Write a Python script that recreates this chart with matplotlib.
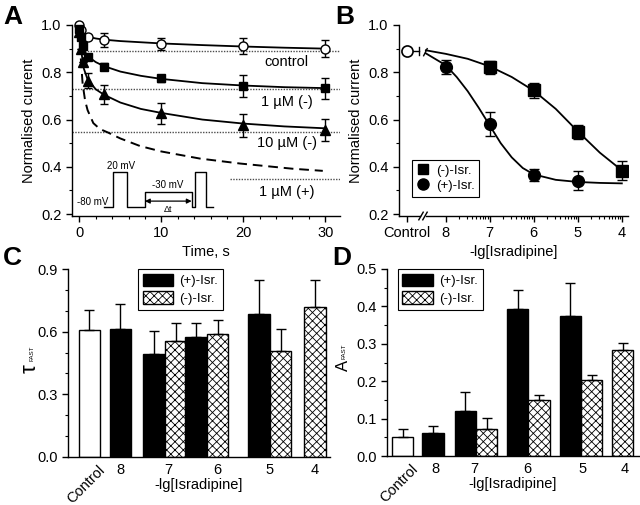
import matplotlib
matplotlib.use("Agg")
import matplotlib.pyplot as plt
import numpy as np
from matplotlib.patches import Patch
from matplotlib.lines import Line2D
from matplotlib.ticker import MultipleLocator, FixedLocator, NullFormatter

plt.rcParams["font.family"] = ["Liberation Sans", "DejaVu Sans"]
plt.rcParams["font.size"] = 10.5
plt.rcParams["axes.linewidth"] = 1.0
plt.rcParams["hatch.linewidth"] = 0.6

# ---- panel A: current decay over time ----
t_control = [0, 0.25, 1, 3, 10, 20, 30]
i_control = [1.0, 0.98, 0.951, 0.937, 0.921, 0.911, 0.90]
e_control = [0, 0, 0, 0.03, 0.025, 0.035, 0.035]

t_minus1 = [0, 0.25, 0.5, 1, 3, 10, 20, 30]
i_minus1 = [0.985, 0.95, 0.91, 0.866, 0.824, 0.775, 0.742, 0.732]
e_minus1 = [0, 0, 0, 0, 0.015, 0.015, 0.045, 0.045]

t_minus10 = [0, 0.2, 0.5, 1, 3, 10, 20, 30]
i_minus10 = [0.97, 0.9, 0.845, 0.765, 0.707, 0.627, 0.575, 0.556]
e_minus10 = [0, 0, 0, 0.03, 0.04, 0.045, 0.05, 0.045]

# fitted curves
fit_t_control = [0, 0.3, 0.6, 1, 2, 3, 5, 10, 15, 20, 25, 30]
fit_control = [1.0, 0.975, 0.96, 0.951, 0.943, 0.938, 0.932, 0.922, 0.915, 0.909, 0.904, 0.90]
fit_t_minus1 = [0, 0.3, 0.6, 1, 2, 3, 5, 7.5, 10, 15, 20, 25, 30]
fit_minus1 = [0.99, 0.93, 0.89, 0.868, 0.843, 0.826, 0.803, 0.785, 0.772, 0.754, 0.744, 0.737, 0.733]
fit_t_minus10 = [0, 0.2, 0.5, 1, 2, 3, 5, 7.5, 10, 15, 20, 25, 30]
fit_minus10 = [0.99, 0.9, 0.82, 0.77, 0.728, 0.705, 0.672, 0.645, 0.628, 0.6, 0.583, 0.571, 0.563]
fit_t_plus1 = [0, 0.15, 0.4, 0.7, 1, 1.7, 2.5, 3.5, 5, 7.4, 10, 14.7, 19.6, 22.8, 26, 29.7]
fit_plus1 = [0.99, 0.87, 0.75, 0.68, 0.64, 0.585, 0.56, 0.545, 0.52, 0.488, 0.465, 0.435, 0.414, 0.403, 0.392, 0.383]

steady_levels = [0.89, 0.728, 0.549, 0.349]
steady_labels = ["control", "1 µM (-)", "10 µM (-)", "1 µM (+)"]
label_y = [0.845, 0.675, 0.499, 0.294]

# voltage protocol inset (time-axis units)
proto_x = [3.0, 4.13, 4.13, 5.75, 5.75, 7.99, 7.99, 13.76, 13.76, 14.09, 14.09, 15.4, 15.4, 16.3]
proto_y = [0.231, 0.231, 0.379, 0.379, 0.231, 0.231, 0.292, 0.292, 0.231, 0.231, 0.379, 0.379, 0.231, 0.231]

# ---- panel B: dose response ----
lg_conc = [8, 7, 6, 5, 4]
resp_minus = [None, 0.821, 0.723, 0.549, 0.383]
err_minus = [None, 0.027, 0.03, 0.03, 0.04]
resp_plus = [0.821, 0.582, 0.366, 0.341, None]
err_plus = [0.03, 0.05, 0.025, 0.04, None]
control_resp = 0.89

fit_x_minus = [8.45, 8, 7.5, 7, 6.5, 6, 5.5, 5, 4.5, 4]
fit_y_minus = [0.893, 0.878, 0.857, 0.825, 0.78, 0.722, 0.645, 0.55, 0.46, 0.385]
fit_x_plus = [8.45, 8, 7.75, 7.5, 7.25, 7, 6.75, 6.5, 6.25, 6, 5.5, 5, 4.5, 4]
fit_y_plus = [0.88, 0.83, 0.78, 0.72, 0.65, 0.575, 0.5, 0.44, 0.395, 0.368, 0.345, 0.336, 0.332, 0.33]

# ---- panels C and D: bars ----
categories = ["Control", "8", "7", "6", "5", "4"]
tau_control, tau_control_err = 0.606, 0.097
tau_plus = [0.612, 0.494, 0.575, 0.684, None]
tau_plus_err = [0.12, 0.109, 0.068, 0.162, None]
tau_minus = [None, 0.555, 0.587, 0.507, 0.716]
tau_minus_err = [None, 0.088, 0.067, 0.107, 0.13]

amp_control, amp_control_err = 0.051, 0.02
amp_plus = [0.061, 0.121, 0.392, 0.373, None]
amp_plus_err = [0.02, 0.051, 0.051, 0.089, None]
amp_minus = [None, 0.071, 0.151, 0.204, 0.283]
amp_minus_err = [None, 0.031, 0.012, 0.013, 0.019]

fig = plt.figure(figsize=(6.4, 5.05), dpi=100)

# ================= A =================
axA = fig.add_axes([72 / 640, 1 - 216 / 505, 268 / 640, 191 / 505])
axA.set_xlim(-0.9, 31.8)
axA.set_ylim(0.192, 1.0)
for s in ("top", "right"):
    axA.spines[s].set_visible(False)

axA.hlines(steady_levels[0], 0, 31.8, colors="0.3", linestyles=(0, (1, 1)), lw=1.0)
for lvl in steady_levels[1:3]:
    axA.hlines(lvl, -0.9, 31.8, colors="0.3", linestyles=(0, (1, 1)), lw=1.0)
axA.hlines(steady_levels[3], 18.4, 31.8, colors="0.3", linestyles=(0, (1, 1)), lw=1.0)

axA.plot(fit_t_control, fit_control, color="black", lw=1.3)
axA.plot(fit_t_minus1, fit_minus1, color="black", lw=1.3)
axA.plot(fit_t_minus10, fit_minus10, color="black", lw=1.3)
axA.plot(fit_t_plus1, fit_plus1, color="black", lw=1.4, ls=(0, (5, 3)))

axA.errorbar(t_control, i_control, yerr=e_control, fmt="o", mfc="white", mec="black",
             ms=6.5, color="black", capsize=3, elinewidth=1, clip_on=False, zorder=5)
axA.errorbar(t_minus1, i_minus1, yerr=e_minus1, fmt="s", mfc="black", mec="black",
             ms=6, color="black", capsize=3, elinewidth=1, clip_on=False, zorder=5)
axA.errorbar(t_minus10, i_minus10, yerr=e_minus10, fmt="^", mfc="black", mec="black",
             ms=6.5, color="black", capsize=3, elinewidth=1, clip_on=False, zorder=5)

for txt, y in zip(steady_labels, label_y):
    axA.text(25.3, y, txt, ha="center", va="center", fontsize=10.5)

axA.plot(proto_x, proto_y, color="black", lw=1.0)
axA.annotate("", xy=(8.0, 0.255), xytext=(13.7, 0.255),
             arrowprops=dict(arrowstyle="<|-|>", color="black", lw=0.9,
                             mutation_scale=7, shrinkA=0, shrinkB=0))
axA.text(5.1, 0.404, "20 mV", fontsize=7, ha="center", va="center")
axA.text(1.6, 0.252, "-80 mV", fontsize=7, ha="center", va="center")
axA.text(10.8, 0.323, "-30 mV", fontsize=7, ha="center", va="center")
axA.text(10.8, 0.219, "Δt", fontsize=6.5, ha="center", va="center")

axA.xaxis.set_major_locator(FixedLocator([0, 10, 20, 30]))
axA.xaxis.set_minor_locator(MultipleLocator(2))
axA.yaxis.set_major_locator(MultipleLocator(0.2))
axA.yaxis.set_minor_locator(MultipleLocator(0.1))
axA.tick_params(which="major", direction="out", length=4, width=1)
axA.tick_params(which="minor", direction="out", length=2.5, width=0.8)
axA.set_ylabel("Normalised current", labelpad=4)
axA.set_xlabel("Time, s", labelpad=3)

# ================= B =================
axB = fig.add_axes([399 / 640, 1 - 216 / 505, 229 / 640, 191 / 505])
axB.set_xlim(9.06, 3.86)
axB.set_ylim(0.192, 1.0)
for s in ("top", "right", "bottom"):
    axB.spines[s].set_visible(False)

# broken x axis
trB = axB.get_xaxis_transform()
axB.plot([9.06, 8.58], [0, 0], color="black", lw=1.0, transform=trB, clip_on=False)
axB.plot([8.45, 3.86], [0, 0], color="black", lw=1.0, transform=trB, clip_on=False)
for bx in (8.56, 8.47):
    axB.plot([bx + 0.05, bx - 0.05], [-0.02, 0.02], color="black", lw=1.0,
             transform=trB, clip_on=False)

axB.plot(fit_x_minus, fit_y_minus, color="black", lw=1.3)
axB.plot(fit_x_plus, fit_y_plus, color="black", lw=1.3)
axB.plot([8.87, 8.6], [control_resp, control_resp], color="black", lw=1.0)
axB.plot([8.6, 8.6], [control_resp - 0.015, control_resp + 0.015], color="black", lw=1.0)
axB.plot([8.5, 8.42], [control_resp - 0.02, control_resp + 0.01], color="black", lw=1.0)
axB.plot([8.87], [control_resp], "o", mfc="white", mec="black", ms=8, mew=1.2, zorder=5)

xm = [x for x, v in zip(lg_conc, resp_minus) if v is not None]
ym = [v for v in resp_minus if v is not None]
em = [v for v in err_minus if v is not None]
xp = [x for x, v in zip(lg_conc, resp_plus) if v is not None]
yp = [v for v in resp_plus if v is not None]
ep = [v for v in err_plus if v is not None]
axB.errorbar(xm, ym, yerr=em, fmt="s", color="black", ms=8, capsize=3.5,
             elinewidth=1, zorder=5, label="(-)-Isr.")
axB.errorbar(xp, yp, yerr=ep, fmt="o", color="black", ms=8.5, capsize=3.5,
             elinewidth=1, zorder=5, label="(+)-Isr.")

minor_b = [d - np.log10(k) for d in (8, 7, 6, 5) for k in range(2, 10)]
axB.xaxis.set_major_locator(FixedLocator([8.87, 8, 7, 6, 5, 4]))
axB.xaxis.set_major_formatter(plt.FixedFormatter(["Control", "8", "7", "6", "5", "4"]))
axB.xaxis.set_minor_locator(FixedLocator(minor_b))
axB.xaxis.set_minor_formatter(NullFormatter())
axB.yaxis.set_major_locator(MultipleLocator(0.2))
axB.yaxis.set_minor_locator(MultipleLocator(0.1))
axB.tick_params(which="major", direction="out", length=4, width=1)
axB.tick_params(which="minor", direction="out", length=2.5, width=0.8)
axB.set_ylabel("Normalised current", labelpad=4)
axB.set_xlabel("-lg[Isradipine]", labelpad=3)
legB = axB.legend(handles=[
    Line2D([], [], marker="s", ls="", color="black", ms=7),
    Line2D([], [], marker="o", ls="", color="black", ms=8)],
    labels=["(-)-Isr.", "(+)-Isr."],
    loc="upper left", bbox_to_anchor=(0.055, 0.295), fontsize=9.5,
    frameon=True, fancybox=False, edgecolor="black", framealpha=1,
    handlelength=1.0, handletextpad=0.5, borderpad=0.35, labelspacing=0.25,
    borderaxespad=0)
legB.get_frame().set_linewidth(0.8)


def bar_panel(ax, pos, ctrl, ctrl_err, plus, plus_err, minus, minus_err, w=1.0):
    err_kw = dict(ecolor="black", elinewidth=1, capsize=3.5, capthick=1)
    ax.bar(pos[0], ctrl, w, color="white", edgecolor="black", lw=1,
           yerr=[[0], [ctrl_err]], error_kw=err_kw)
    for i in range(5):
        p = pos[i + 1]
        both = plus[i] is not None and minus[i] is not None
        if plus[i] is not None:
            x = p - w / 2 if both else p
            ax.bar(x, plus[i], w, color="black", edgecolor="black", lw=1,
                   yerr=[[0], [plus_err[i]]], error_kw=err_kw)
        if minus[i] is not None:
            x = p + w / 2 if both else p
            ax.bar(x, minus[i], w, color="white", edgecolor="black", lw=1,
                   hatch="xxxx", yerr=[[0], [minus_err[i]]], error_kw=err_kw)
    for s in ("top", "right"):
        ax.spines[s].set_visible(False)
    ax.tick_params(axis="x", length=0, pad=4)
    ax.tick_params(axis="y", which="major", direction="out", length=4, width=1)
    ax.tick_params(axis="y", which="minor", direction="out", length=2.5, width=0.8)
    ax.set_xlabel("-lg[Isradipine]")
    ax.xaxis.set_label_coords(0.5, -0.15)
    ax.xaxis.label.set_va("center")
    leg = ax.legend(handles=[
        Patch(facecolor="black", edgecolor="black"),
        Patch(facecolor="white", edgecolor="black", hatch="xxxx")],
        labels=["(+)-Isr.", "(-)-Isr."], fontsize=9.5,
        frameon=True, fancybox=False, edgecolor="black", framealpha=1,
        handlelength=2.3, handleheight=1.1, handletextpad=0.5,
        borderpad=0.35, labelspacing=0.3, borderaxespad=0, loc="upper left")
    leg.get_frame().set_linewidth(0.8)
    return leg


# ================= C =================
axC = fig.add_axes([68 / 640, 1 - 457 / 505, 262 / 640, 188 / 505])
posC = [0, 1.44, 3.51, 5.47, 8.4, 10.51]
legC = bar_panel(axC, posC, tau_control, tau_control_err, tau_plus, tau_plus_err,
                 tau_minus, tau_minus_err)
legC.set_bbox_to_anchor((0.267, 1.0), transform=axC.transAxes)
axC.set_xlim(-1.0, 11.2)
axC.set_ylim(0, 0.9)
axC.yaxis.set_major_locator(MultipleLocator(0.3))
axC.yaxis.set_minor_locator(MultipleLocator(0.1))
axC.set_xticks([0.4, 1.44, 3.65, 5.93, 8.4, 10.49])
axC.set_xticklabels(categories)
axC.get_xticklabels()[0].set(rotation=45, ha="right", rotation_mode="anchor")
fig.text(30 / 640, 1 - 369 / 505, "τ", rotation=90, fontsize=16, ha="center", va="center")
fig.text(32 / 640, 1 - 353 / 505, "FAST", rotation=90, fontsize=4.5, ha="center", va="center")

# ================= D =================
axD = fig.add_axes([387 / 640, 1 - 456 / 505, 252 / 640, 187 / 505])
posD = [0, 1.43, 3.45, 5.9, 8.38, 10.33]
legD = bar_panel(axD, posD, amp_control, amp_control_err, amp_plus, amp_plus_err,
                 amp_minus, amp_minus_err)
legD.set_bbox_to_anchor((0.043, 1.0), transform=axD.transAxes)
axD.set_xlim(-0.73, 11.1)
axD.set_ylim(0, 0.5)
axD.yaxis.set_major_locator(MultipleLocator(0.1))
axD.yaxis.set_minor_locator(MultipleLocator(0.05))
axD.set_xticks([0.4, 1.53, 3.36, 5.85, 8.43, 10.45])
axD.set_xticklabels(categories)
axD.get_xticklabels()[0].set(rotation=45, ha="right", rotation_mode="anchor")
fig.text(343 / 640, 1 - 365 / 505, "A", rotation=90, fontsize=12, ha="center", va="center")
fig.text(344 / 640, 1 - 351 / 505, "FAST", rotation=90, fontsize=4.5, ha="center", va="center")

# panel letters
for letter, x, y in (("A", 3, 5), ("B", 335, 5), ("C", 3, 246), ("D", 332, 246)):
    fig.text(x / 640, 1 - y / 505, letter, fontsize=19, fontweight="bold",
             ha="left", va="top")

fig.savefig("out.png", dpi=100)
